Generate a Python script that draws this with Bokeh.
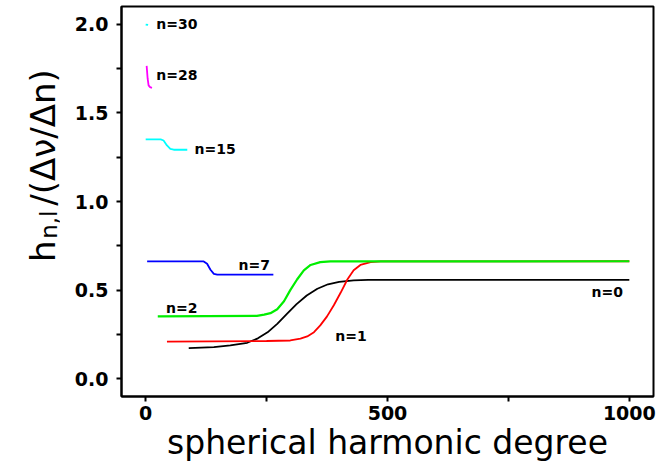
import math

from bokeh.plotting import figure
from bokeh.layouts import row
from bokeh.models import Range1d, FixedTicker, PrintfTickFormatter, Label
from bokeh.embed import file_html
from bokeh.resources import INLINE

# Normalised inner-turning-point derivative h_{n,l}/(dnu/dn) against degree l,
# one curve per radial order n.
l_n0 = [89, 141, 175, 210, 232, 252, 272, 292, 312, 333, 355, 377, 400, 430, 460, 1000]
h_n0 = [0.173, 0.178, 0.188, 0.203, 0.228, 0.262, 0.310, 0.366, 0.421, 0.470,
        0.508, 0.533, 0.547, 0.555, 0.558, 0.558]

l_n1 = [44, 250, 299, 320, 334, 348, 361, 375, 389, 403, 417, 430, 444, 465, 486, 1000]
h_n1 = [0.210, 0.213, 0.216, 0.226, 0.239, 0.263, 0.301, 0.352, 0.415, 0.485,
        0.560, 0.612, 0.642, 0.658, 0.662, 0.663]

l_n2 = [25, 230, 245, 258, 272, 286, 299, 313, 327, 341, 361, 382, 1000]
h_n2 = [0.352, 0.355, 0.362, 0.370, 0.392, 0.437, 0.500, 0.560, 0.612, 0.642,
        0.658, 0.662, 0.663]

l_n7 = [3, 120, 127, 134, 141, 148, 264]
h_n7 = [0.662, 0.662, 0.649, 0.615, 0.592, 0.588, 0.588]

l_n15 = [0, 31, 37, 44, 51, 58, 86]
h_n15 = [1.350, 1.350, 1.344, 1.316, 1.297, 1.292, 1.292]

l_n28 = [2, 4, 6, 9, 13]
h_n28 = [1.765, 1.694, 1.655, 1.645, 1.641]

l_n30 = [0, 5]
h_n30 = [1.998, 1.996]

x_ticks = [0, 500, 1000]
x_minor = [250, 750]
y_ticks = [0.0, 0.5, 1.0, 1.5, 2.0]
y_minor = [0.25, 0.75, 1.25, 1.75]

series = [
    ("n=0", l_n0, h_n0, "black", 1.8),
    ("n=1", l_n1, h_n1, "#ff0000", 1.8),
    ("n=2", l_n2, h_n2, "#00ee00", 2.2),
    ("n=7", l_n7, h_n7, "#0000ff", 1.8),
    ("n=15", l_n15, h_n15, "#00ffff", 1.8),
    ("n=28", l_n28, h_n28, "#ff00ff", 1.8),
    ("n=30", l_n30, h_n30, "#00ffff", 1.8),
]

# where each order's tag is written
tags = {
    "n=30": (22, 2.000),
    "n=28": (22, 1.715),
    "n=15": (101, 1.295),
    "n=7": (192, 0.643),
    "n=2": (42, 0.400),
    "n=1": (392, 0.243),
    "n=0": (922, 0.492),
}

p = figure(width=607, height=470, output_backend="svg", toolbar_location=None,
           x_range=Range1d(-50, 1050), y_range=Range1d(-0.1, 2.1),
           min_border_left=61, min_border_right=14,
           min_border_top=6, min_border_bottom=74)

p.background_fill_color = "white"
p.border_fill_color = "white"
p.outline_line_color = "black"
p.outline_line_width = 2
p.grid.visible = False

for ax in (p.xaxis[0], p.yaxis[0]):
    ax.axis_line_width = 2
    ax.major_tick_line_width = 2
    ax.minor_tick_line_width = 2
    ax.major_tick_in = 0
    ax.minor_tick_in = 0
    ax.major_tick_out = 5
    ax.minor_tick_out = 5
    ax.major_label_text_font = "DejaVu Sans"
    ax.major_label_text_font_style = "bold"
    ax.major_label_text_font_size = "19px"
    ax.major_label_text_color = "black"

p.xaxis.ticker = FixedTicker(ticks=x_ticks, minor_ticks=x_minor)
p.yaxis.ticker = FixedTicker(ticks=y_ticks, minor_ticks=y_minor)
p.yaxis.formatter = PrintfTickFormatter(format="%.1f")
p.xaxis.major_label_standoff = 4
p.yaxis.major_label_standoff = 8

p.xaxis.axis_label = "spherical harmonic degree"
p.xaxis.axis_label_text_font = "DejaVu Sans"
p.xaxis.axis_label_text_font_style = "normal"
p.xaxis.axis_label_text_font_size = "33px"
p.xaxis.axis_label_text_color = "black"
p.xaxis.axis_label_standoff = 0

for name, ls, hs, color, width in series:
    p.line(ls, hs, line_color=color, line_width=width)
    tx, ty = tags[name]
    p.add_layout(Label(x=tx, y=ty, text=name, text_font="DejaVu Sans",
                       text_font_style="bold", text_font_size="14px",
                       text_color="black", text_align="left",
                       text_baseline="middle"))

# narrow strip on the left that carries the vertical axis title; its ranges
# are in pixels (y grows downward) so the pieces can be placed directly
strip = figure(width=60, height=470, output_backend="svg", toolbar_location=None,
               x_range=Range1d(0, 60), y_range=Range1d(470, 0), min_border=0)
strip.axis.visible = False
strip.grid.visible = False
strip.outline_line_color = None
strip.background_fill_color = "white"
strip.border_fill_color = "white"

# title built from pieces so the subscript sits lower and smaller
ylab = [
    ("h", 42, 308, "34px"),
    ("n,l", 48, 280, "23px"),
    ("/(\u0394\u03bd/\u0394n)", 42, 240, "34px"),
]
for txt, xx, yy, size in ylab:
    strip.add_layout(Label(x=xx, y=yy, text=txt, angle=math.pi / 2,
                           text_font="DejaVu Sans", text_font_size=size,
                           text_color="black", text_align="left",
                           text_baseline="alphabetic"))

layout = row(strip, p, spacing=0)
open("out.html", "w").write(file_html(layout, INLINE))
